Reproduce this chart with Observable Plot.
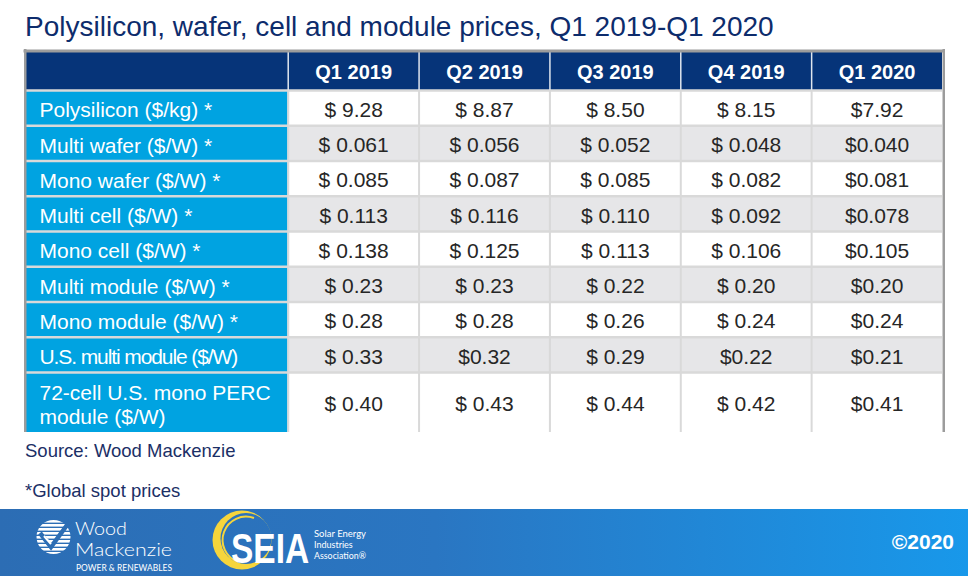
<!DOCTYPE html>
<html><head><meta charset="utf-8">
<script src="https://cdn.jsdelivr.net/npm/d3@7"></script>
<script src="https://cdn.jsdelivr.net/npm/@observablehq/plot@0.6"></script>
<style>
html,body{margin:0;padding:0;background:#fff;}
body{width:968px;height:576px;position:relative;overflow:hidden;font-family:"Liberation Sans",Arial,sans-serif;}
#title{position:absolute;left:25px;top:13px;font-size:28px;line-height:28px;color:#0d2c6c;white-space:nowrap;}
#chart{position:absolute;left:0;top:40px;}
.note{position:absolute;left:25px;font-size:18.5px;line-height:20px;color:#1b2f66;white-space:nowrap;}
#footer{position:absolute;left:0;top:509px;width:968px;height:67px;background:linear-gradient(90deg,#2c6db4 0%,#2a76c2 45%,#1898ea 100%);}
</style></head><body>
<div id="title">Polysilicon, wafer, cell and module prices, Q1 2019-Q1 2020</div>
<div id="chart"></div>
<div class="note" style="top:441px">Source: Wood Mackenzie</div>
<div class="note" style="top:481px">*Global spot prices</div>
<div id="footer">
<svg width="968" height="67" style="position:absolute;left:0;top:0" font-family="Lato, 'Liberation Sans', sans-serif">
  <defs>
    <clipPath id="wmc"><circle cx="53.5" cy="28" r="17"/></clipPath>
    <mask id="seiam"><rect x="200" y="0" width="100" height="67" fill="#000"/><circle cx="242" cy="31" r="29.5" fill="#fff"/><circle cx="246" cy="29.5" r="25.5" fill="#000"/></mask>
  </defs>
  <g clip-path="url(#wmc)" fill="#fff">
    <rect x="30" y="11" width="50" height="2.6"/><rect x="30" y="15" width="50" height="2.6"/>
    <rect x="30" y="19" width="50" height="2.6"/><rect x="30" y="23" width="50" height="2.6"/>
    <rect x="30" y="27" width="50" height="2.6"/><rect x="30" y="31" width="50" height="2.6"/>
    <rect x="30" y="35" width="50" height="2.6"/><rect x="30" y="39" width="50" height="2.6"/>
    <rect x="30" y="43" width="50" height="2.6"/>
  </g>
  <path d="M40 24 L51 38 L70 12" fill="none" stroke="#2c6db4" stroke-width="4.5"/>
  <path d="M44 27 L51 35" fill="none" stroke="#fff" stroke-width="2"/>
  <text x="75" y="25.5" font-size="18" font-weight="300" fill="#fff" textLength="52" lengthAdjust="spacingAndGlyphs">Wood</text>
  <text x="75" y="47" font-size="18" font-weight="300" fill="#fff" textLength="97" lengthAdjust="spacingAndGlyphs">Mackenzie</text>
  <text x="76" y="61.5" font-size="9" fill="#fff" textLength="96" lengthAdjust="spacingAndGlyphs">POWER &amp; RENEWABLES</text>
  <rect x="200" y="0" width="100" height="67" fill="#f6d53b" mask="url(#seiam)"/>
  <path d="M254 9 A23 23 0 0 0 238 53" fill="none" stroke="#f6d53b" stroke-width="2"/>
  <text transform="translate(231,54) scale(1,1.25)" font-size="33.5" font-weight="bold" fill="#fff" font-family="'Liberation Sans', Arial, sans-serif">SEIA</text>
  <text x="314" y="28" font-size="9" fill="#fff" textLength="52" lengthAdjust="spacingAndGlyphs">Solar Energy</text>
  <text x="314" y="39" font-size="9" fill="#fff">Industries</text>
  <text x="314" y="50" font-size="9" fill="#fff" textLength="52" lengthAdjust="spacingAndGlyphs">Association®</text>
  <text x="954" y="40" font-size="21" font-weight="bold" fill="#fff" text-anchor="end" font-family="'Liberation Sans', Arial, sans-serif">©2020</text>
</svg>
</div>
<script>
// ---- data ----
const quarters = ["Q1 2019", "Q2 2019", "Q3 2019", "Q4 2019", "Q1 2020"];
const products = [
  "Polysilicon ($/kg) *",
  "Multi wafer ($/W) *",
  "Mono wafer ($/W) *",
  "Multi cell ($/W) *",
  "Mono cell ($/W) *",
  "Multi module ($/W) *",
  "Mono module ($/W) *",
  "U.S. multi module ($/W)",
  "72-cell U.S. mono PERC\nmodule ($/W)"
];
const q1_2019 = [9.28, 0.061, 0.085, 0.113, 0.138, 0.23, 0.28, 0.33, 0.40];
const q2_2019 = [8.87, 0.056, 0.087, 0.116, 0.125, 0.23, 0.28, 0.32, 0.43];
const q3_2019 = [8.50, 0.052, 0.085, 0.110, 0.113, 0.22, 0.26, 0.29, 0.44];
const q4_2019 = [8.15, 0.048, 0.082, 0.092, 0.106, 0.20, 0.24, 0.22, 0.42];
const q1_2020 = [7.92, 0.040, 0.081, 0.078, 0.105, 0.20, 0.24, 0.21, 0.41];
const decimals = [2, 3, 3, 3, 3, 2, 2, 2, 2];
// cells printed as "$0.00" (no space) besides the whole Q1 2020 column: [row, quarter]
const tightCells = [[7, 1], [7, 3]];

const series = [q1_2019, q2_2019, q3_2019, q4_2019, q1_2020];

// ---- layout (row units) ----
const headerH = 38, rowH = 35.25, tallRowH = 60;
let acc = headerH;
const rows = products.map((p, i) => {
  const h = p.includes("\n") ? tallRowH : rowH;
  const r = {product: p, i, top: acc, bottom: acc + h, mid: acc + h / 2};
  acc += h;
  return r;
});
const total = acc;

const cells = [];
rows.forEach(r => {
  series.forEach((s, j) => {
    const tight = j === 4 || tightCells.some(([a, b]) => a === r.i && b === j);
    const num = d3.format(`.${decimals[r.i]}f`)(s[r.i]);
    cells.push({row: r.i, col: j, top: r.top, bottom: r.bottom, mid: r.mid,
      x1: 2 + j, x2: 3 + j, text: (tight ? "$" : "$ ") + num});
  });
});

const border = "#9c9c9c", sep = "#d9d9d9";
const chart = Plot.plot({
  width: 968, height: 400, margin: 0,
  x: {type: "linear", domain: [0, 7], range: [26, 942], axis: null},
  y: {type: "linear", domain: [0, total], range: [12, 392], axis: null},
  style: {fontFamily: "'Liberation Sans', Arial, sans-serif", background: "transparent"},
  marks: [
    Plot.rect([0], {x1: 0, x2: 7, y1: 0, y2: headerH, fill: "#063479"}),
    Plot.rect(rows, {x1: 0, x2: 2, y1: "top", y2: "bottom", fill: "#00a3e1"}),
    Plot.rect(cells, {x1: "x1", x2: "x2", y1: "top", y2: "bottom", fill: d => d.row % 2 ? "#e6e6e8" : "#ffffff"}),
    Plot.ruleY(rows, {y: "top", x1: 0, x2: 7, stroke: sep, strokeWidth: 2.5}),
    Plot.ruleX(d3.range(2, 7), {x: d => d, y1: headerH, y2: total, stroke: sep, strokeWidth: 2}),
    Plot.ruleX(d3.range(2, 7), {x: d => d, y1: 0, y2: headerH, stroke: "#dfe5ee", strokeWidth: 1.5}),
    Plot.ruleY([0], {x1: 0, x2: 7, stroke: border, strokeWidth: 3, dy: -1.5, insetLeft: -2.5, insetRight: -2.5}),
    Plot.ruleX([0], {y1: 0, y2: total, stroke: border, strokeWidth: 2.5, dx: -1.25, insetTop: -3}),
    Plot.ruleX([7], {y1: 0, y2: total, stroke: border, strokeWidth: 2.5, dx: 1.25, insetTop: -3}),
    Plot.text(quarters, {x: (d, i) => 2.5 + i, y: headerH / 2, text: d => d, fill: "#ffffff", fontWeight: "bold", fontSize: 20, dy: 1}),
    Plot.text(rows, {x: 0, y: "mid", text: "product", textAnchor: "start", dx: 13, dy: 1.5, fill: "#ffffff", fontSize: 21, lineHeight: 1.14}),
    Plot.text(cells, {x: d => d.x1 + 0.5, y: "mid", text: "text", fill: "#262626", fontSize: 21, dy: 2})
  ]
});
d3.select(chart).selectAll("text").filter(function() { return this.textContent === "U.S. multi module ($/W)"; })
  .attr("letter-spacing", "-1.1");
document.getElementById("chart").appendChild(chart);
</script>
</body></html>
